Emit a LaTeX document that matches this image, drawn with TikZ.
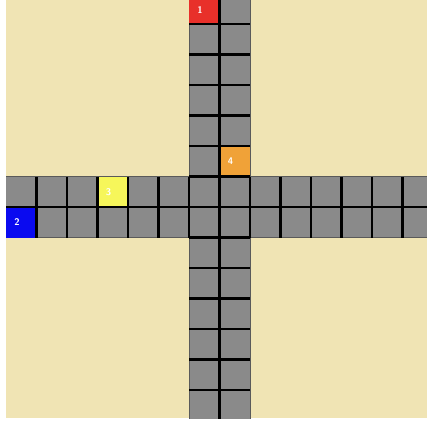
\documentclass[tikz,border=0pt]{standalone}

\definecolor{tgrass}{HTML}{F0E4B4}
\definecolor{troad}{HTML}{8A8A8A}
\definecolor{tedge}{HTML}{5A5A5A}
\definecolor{tred}{HTML}{E8302A}
\definecolor{tblue}{HTML}{0A0AF0}
\definecolor{tyellow}{HTML}{F6F65A}
\definecolor{torange}{HTML}{F0A238}

\begin{document}
\begin{tikzpicture}[
  x=1cm, y=-1cm,
  road/.style={fill=troad, draw=tedge, line width=0.5pt},
  cellline/.style={draw=black, line width=2pt},
  carnum/.style={font=\sffamily\bfseries\small, text=white, inner sep=0pt},
]
  \useasboundingbox (0,0) rectangle (14,13.803);
  \fill[white] (0,0) rectangle (14,13.803);
  \fill[tgrass] (0.197,0) rectangle (14,13.705);
  \begin{scope}
  \clip (0.197,0) rectangle (14,13.705);
  \begin{scope}[shift={(0.197,-0.213)}]
    % two roads, crossing in the middle
    \draw[road] (6,-1) rectangle (8,15);
    \draw[road] (-1,6) rectangle (15,8);
    \fill[troad] (6,6) rectangle (8,8);
    % cars
    \fill[tred]    (6,0) rectangle (7,1);
    \fill[tblue]   (0,7) rectangle (1,8);
    \fill[tyellow] (3,6) rectangle (4,7);
    \fill[torange] (7,5) rectangle (8,6);
    % cell borders
    \draw[cellline] (7,-1) -- (7,15);
    \foreach \r in {1,...,13} \draw[cellline] (6,\r) -- (8,\r);
    \draw[cellline] (-1,7) -- (15,7);
    \foreach \c in {1,...,13} \draw[cellline] (\c,6) -- (\c,8);
    % car numbers
    \node[carnum] (car1) at (6.36,0.55) {1};
    \node[carnum] (car2) at (0.36,7.5) {2};
    \node[carnum] (car3) at (3.36,6.5) {3};
    \node[carnum] (car4) at (7.36,5.5) {4};
  \end{scope}
  \end{scope}
\end{tikzpicture}
\end{document}
